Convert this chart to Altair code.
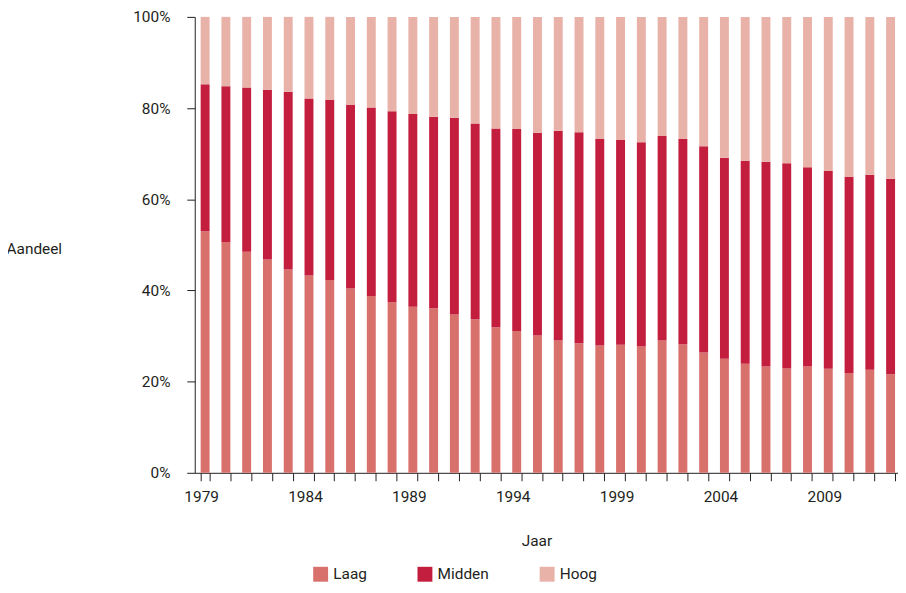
import altair as alt
import pandas as pd

years = list(range(1979, 2013))
# boundary readings (cumulative % at top of Laag, top of Midden)
laag = [53.0, 50.6, 48.5, 46.8, 44.6, 43.3, 42.3, 40.4, 38.8, 37.4,
        36.4, 36.1, 34.7, 33.7, 31.9, 31.1, 30.1, 29.0, 28.4, 27.9,
        28.1, 27.7, 29.0, 28.2, 26.4, 25.0, 23.9, 23.3, 22.9, 23.3,
        22.8, 21.9, 22.6, 21.6]
midden_top = [85.2, 84.8, 84.5, 84.0, 83.6, 82.1, 81.8, 80.7, 80.1, 79.3,
              78.7, 78.1, 77.9, 76.6, 75.5, 75.4, 74.6, 75.0, 74.7, 73.2,
              73.0, 72.5, 73.9, 73.2, 71.6, 69.1, 68.4, 68.2, 67.9, 67.0,
              66.2, 64.9, 65.4, 64.5]
midden = [round(m - l, 1) for m, l in zip(midden_top, laag)]
hoog = [round(100 - m, 1) for m in midden_top]

categories = ["Laag", "Midden", "Hoog"]
colors = ["#D8716C", "#C41E3F", "#E9B2A9"]

rows = []
for i, y in enumerate(years):
    for k, (cat, vals) in enumerate(zip(categories, [laag, midden, hoog])):
        rows.append({"Jaar": y, "Niveau": cat, "Aandeel": vals[i], "volgorde": k})
df = pd.DataFrame(rows)

FONT = "Roboto"
TXT = "#231F20"

chart = alt.Chart(df).mark_bar().encode(
    x=alt.X("Jaar:O",
            scale=alt.Scale(paddingInner=0.57, paddingOuter=0.285),
            axis=alt.Axis(title="Jaar", labelAngle=0, tickBand="extent",
                          labelExpr="(datum.value - 1979) % 5 == 0 ? datum.label : ''",
                          labelOffset=-4, labelPadding=9, tickSize=8,
                          titleX=344, titleY=68, titleBaseline="middle",
                          titleFontWeight="normal")),
    y=alt.Y("Aandeel:Q", stack="normalize",
            scale=alt.Scale(domain=[0, 1]),
            axis=alt.Axis(title="Aandeel", format=".0%", values=[0, 0.2, 0.4, 0.6, 0.8, 1.0],
                          grid=False, tickSize=8, labelPadding=17,
                          titleAngle=0, titleAlign="left", titleBaseline="middle",
                          titleX=-190, titleY=233, titleFontWeight="normal")),
    color=alt.Color("Niveau:N",
                    scale=alt.Scale(domain=categories, range=colors),
                    legend=alt.Legend(title=None, orient="none", direction="horizontal",
                                      legendX=119, legendY=553,
                                      symbolType="square", symbolSize=225,
                                      symbolStrokeWidth=0, labelOffset=5,
                                      columnPadding=50)),
    order=alt.Order("volgorde:Q"),
).properties(
    width=711, height=459,
    autosize=alt.AutoSizeParams(type="none"),
    padding={"left": 188, "top": 7, "right": -3, "bottom": 110},
).configure_view(
    stroke=None
).configure_axis(
    labelFont=FONT, titleFont=FONT, labelFontSize=15.5, titleFontSize=15.5,
    labelColor=TXT, titleColor=TXT, domainColor=TXT, tickColor=TXT,
    domainWidth=1, tickWidth=1,
).configure_legend(
    labelFont=FONT, labelFontSize=15.5, labelColor=TXT,
)

chart.save("out.html", embed_options={"renderer": "svg", "actions": False})
